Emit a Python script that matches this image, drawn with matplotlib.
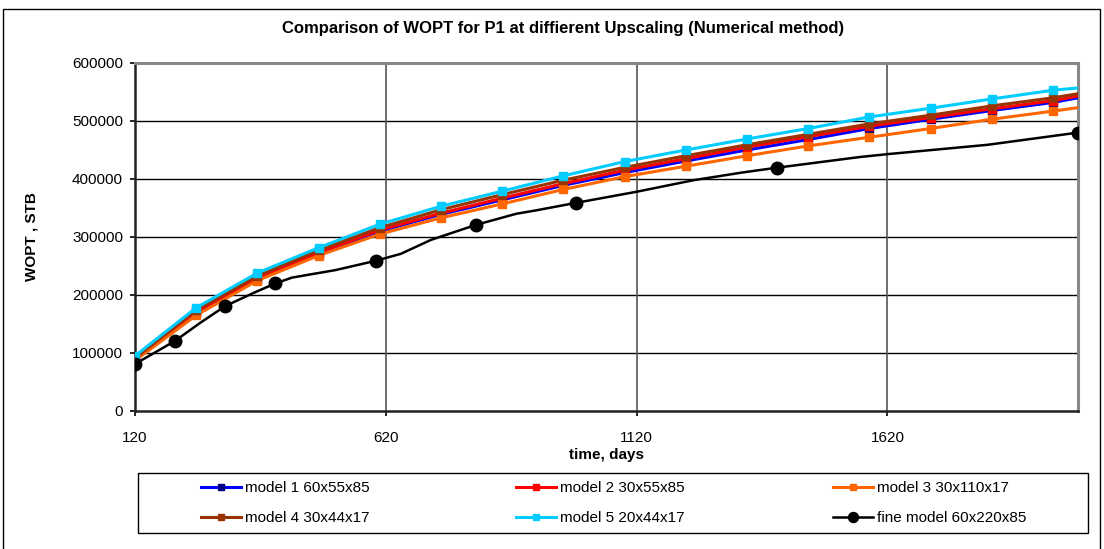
import matplotlib
matplotlib.use("Agg")
import matplotlib.pyplot as plt
from matplotlib.patches import Rectangle

plt.rcParams['font.family'] = ['Liberation Sans', 'DejaVu Sans']

# ---- data ----
days = [120, 242, 364, 486, 608, 730, 852, 974, 1096, 1218, 1340, 1462, 1584, 1706, 1828, 1950, 2000]
model1 = [88000, 169000, 228000, 271000, 310000, 339000, 364000, 389000, 411000, 431000, 450000, 468000, 487000, 503000, 518000, 532000, 540000]
model2 = [89000, 171000, 230000, 273000, 312000, 341000, 367000, 392000, 415000, 435000, 455000, 473000, 491000, 506000, 521000, 535000, 543000]
model3 = [87000, 165000, 225000, 268000, 305000, 333000, 357000, 382000, 404000, 422000, 440000, 457000, 472000, 487000, 503000, 517000, 523000]
model4 = [91000, 174000, 233000, 277000, 316000, 347000, 373000, 398000, 420000, 440000, 459000, 477000, 495000, 510000, 526000, 540000, 547000]
model5 = [95000, 178000, 238000, 281500, 322000, 353000, 379000, 405500, 430000, 450000, 469000, 487000, 507000, 522000, 538000, 553000, 557000]

fine_days = [120, 200, 250, 300, 360, 400, 433, 520, 600, 650, 710, 800, 880, 920, 1000, 1120, 1234, 1333, 1400, 1566, 1622, 1820, 2000]
fine_vals = [81000, 121000, 152000, 181000, 205000, 220000, 230000, 243000, 259000, 271000, 295000, 321000, 340000, 346000, 359000, 378000, 398000, 411500, 419500, 438000, 443000, 459000, 480000]
fine_marked = [120, 200, 300, 400, 600, 800, 1000, 1400, 2000]

labels = ['model 1 60x55x85', 'model 2 30x55x85', 'model 3 30x110x17',
          'model 4 30x44x17', 'model 5 20x44x17', 'fine model 60x220x85']
xticks = [120, 620, 1120, 1620]
yticks = [0, 100000, 200000, 300000, 400000, 500000, 600000]

W, H = 1104, 549
fig = plt.figure(figsize=(W / 100, H / 100), dpi=100)
fig.patch.set_facecolor('white')

L, R, T, B = 135, 1078, 63, 411
ax = fig.add_axes([L / W, 1 - B / H, (R - L) / W, (B - T) / H])

coarse_mark = list(range(len(days) - 1))
series = [
    (model1, '#0000FF', '#000080', labels[0]),
    (model2, '#FF0000', '#FF0000', labels[1]),
    (model3, '#FF6600', '#FF6600', labels[2]),
    (model4, '#993300', '#993300', labels[3]),
    (model5, '#00CCFF', '#00CCFF', labels[4]),
]
handles = []
for vals, lc, mc, lab in series:
    h, = ax.plot(days, vals, color=lc, lw=2.2, marker='s', ms=5.5,
                 mfc=mc, mec=mc, markevery=coarse_mark, label=lab, zorder=3)
    handles.append(h)

fine_idx = [fine_days.index(d) for d in fine_marked]
h, = ax.plot(fine_days, fine_vals, color='black', lw=1.8, marker='o', ms=9,
             mfc='black', mec='black', markevery=fine_idx, label=labels[5], zorder=4)
handles.append(h)

ax.set_xlim(120, 2000)
ax.set_ylim(0, 600000)
ax.set_xticks(xticks)
ax.set_xticklabels([str(t) for t in xticks], fontsize=11)
ax.set_yticks(yticks)
ax.set_yticklabels([str(t) for t in yticks], fontsize=11)
ax.tick_params(axis='y', direction='out', length=3.6, width=1.2, color='black', pad=5)
ax.tick_params(axis='x', direction='out', length=3.6, width=1.2, color='black', pad=10.5)

for y in yticks[1:-1]:
    ax.axhline(y, color='black', lw=1.0, zorder=1)
for x in xticks[1:]:
    ax.axvline(x, color='#555555', lw=1.2, zorder=1)

for s in ['left', 'bottom']:
    ax.spines[s].set_color('#222222')
    ax.spines[s].set_linewidth(1.8)
for s in ['top', 'right']:
    ax.spines[s].set_color('#888888')
    ax.spines[s].set_linewidth(2.2)

ax.set_xlabel('time, days', fontsize=11, fontweight='bold', labelpad=2.2)
ax.set_ylabel('WOPT , STB', fontsize=11, fontweight='bold', labelpad=24)

fig.text(563 / W, 1 - 28 / H, 'Comparison of WOPT for P1 at diffierent Upscaling (Numerical method)',
         ha='center', va='center', fontsize=12, fontweight='bold')

# outer chart border
fig.patches.append(Rectangle((3 / W, -0.01), 1097 / W, 1 - 9 / H + 0.01,
                             transform=fig.transFigure, fill=False, ec='black', lw=1.0))

# legend box
lx0, lx1, ly0, ly1 = 138, 1088, 473, 533
fig.patches.append(Rectangle((lx0 / W, 1 - ly1 / H), (lx1 - lx0) / W, (ly1 - ly0) / H,
                             transform=fig.transFigure, fill=False, ec='black', lw=1.0))
col_x = [201, 516, 833]
cols = [[0, 3], [1, 4], [2, 5]]
for cx, idxs in zip(col_x, cols):
    lg = fig.legend(handles=[handles[i] for i in idxs], labels=[labels[i] for i in idxs],
                    loc='upper left', bbox_to_anchor=(cx / W, 1 - 481 / H),
                    frameon=False, fontsize=11, handlelength=2.6, handletextpad=0.25,
                    labelspacing=1.05, borderpad=0, borderaxespad=0, markerscale=0.8)

fig.savefig('out.png', dpi=100)
